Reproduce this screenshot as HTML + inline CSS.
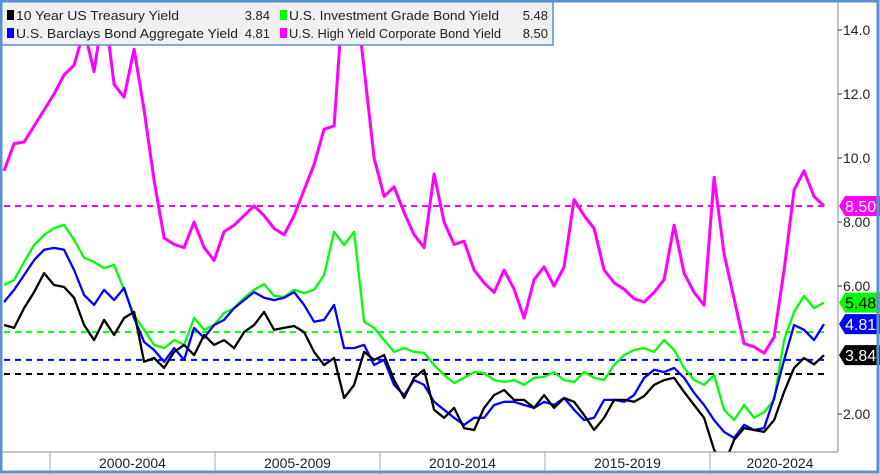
<!DOCTYPE html>
<html><head><meta charset="utf-8">
<style>
html,body{margin:0;padding:0;background:#fff;}
svg{display:block;font-family:"Liberation Sans",sans-serif;}
</style></head>
<body>
<svg id="chart" width="880" height="474" viewBox="0 0 880 474" xmlns="http://www.w3.org/2000/svg">
  <defs><clipPath id="plotclip"><rect x="2" y="2" width="836" height="450"/></clipPath></defs>
  <rect x="0" y="0" width="880" height="474" fill="#fff"/>
  <g id="grid"></g>
  <g id="series" clip-path="url(#plotclip)"></g>
  <line x1="838" y1="2" x2="838" y2="452" stroke="#888" stroke-width="1"/>
  <line x1="2" y1="452" x2="838" y2="452" stroke="#888" stroke-width="1"/>
  <g id="yaxis"></g>
  <g id="xaxis"></g>
  <g id="endlabels"></g>
  <g>
    <rect x="1" y="1" width="552" height="44" fill="#f0f0f0" stroke="#5b8fd0" stroke-width="1.5"/>
    <g font-size="13" fill="#222">
      <rect x="7" y="10" width="7" height="10" fill="#000"/>
      <text x="16" y="20" textLength="163" lengthAdjust="spacingAndGlyphs">10 Year US Treasury Yield</text>
      <text x="270" y="20" text-anchor="end">3.84</text>
      <rect x="7" y="28" width="7" height="10" fill="#0000ff"/>
      <text x="16" y="38" textLength="222" lengthAdjust="spacingAndGlyphs">U.S. Barclays Bond Aggregate Yield</text>
      <text x="270" y="38" text-anchor="end">4.81</text>
      <rect x="280" y="10" width="7" height="10" fill="#00ff00"/>
      <text x="289" y="20" textLength="210" lengthAdjust="spacingAndGlyphs">U.S. Investment Grade Bond Yield</text>
      <text x="548" y="20" text-anchor="end">5.48</text>
      <rect x="280" y="28" width="7" height="10" fill="#ff00ff"/>
      <text x="289" y="38" textLength="212" lengthAdjust="spacingAndGlyphs">U.S. High Yield Corporate Bond Yield</text>
      <text x="548" y="38" text-anchor="end">8.50</text>
    </g>
  </g>
  <rect x="1" y="1" width="877" height="471" fill="none" stroke="#5b8fd0" stroke-width="3"/>
</svg>
<script>
const startYear = 1998.61;
const stepYears = 0.303;
const treasury = [4.78,4.69,5.31,5.81,6.4,6.03,5.97,5.63,4.78,4.31,
4.94,4.47,5.0,5.19,3.63,3.75,3.44,3.94,4.16,3.84,
4.47,4.16,4.31,4.06,4.56,4.78,5.19,4.63,4.69,4.75,
4.56,3.94,3.53,3.75,2.5,2.91,3.94,3.69,3.84,3.06,
2.5,3.13,3.38,2.13,1.88,2.19,1.56,1.5,2.19,2.59,
2.75,2.44,2.44,2.19,2.59,2.19,2.5,2.38,1.97,1.5,
1.88,2.44,2.44,2.38,2.56,2.91,3.06,3.13,2.69,2.28,
1.88,0.88,0.41,1.19,1.56,1.5,1.44,1.81,2.69,3.44,
3.75,3.55,3.84];
const aggregate = [5.5,5.88,6.34,6.81,7.13,7.19,7.13,6.5,5.72,5.41,
5.88,5.56,5.94,5.0,4.25,4.0,3.63,4.06,3.69,4.69,
4.38,4.78,4.94,5.31,5.56,5.81,5.63,5.56,5.63,5.81,
5.41,4.88,4.94,5.41,4.06,4.06,4.16,3.53,3.69,2.91,
2.59,3.06,2.91,2.38,2.13,1.88,1.66,1.88,1.88,2.28,
2.38,2.38,2.28,2.19,2.38,2.28,2.5,2.13,1.81,1.88,
2.44,2.44,2.38,2.59,3.13,3.38,3.31,3.44,3.13,2.66,
2.28,1.81,1.44,1.25,1.66,1.5,1.56,2.5,3.69,4.78,
4.63,4.31,4.81];
const investmentGrade = [6.03,6.19,6.75,7.28,7.59,7.81,7.91,7.44,6.88,6.75,
6.56,6.66,5.88,5.09,4.63,4.16,4.06,4.31,4.16,5.0,
4.63,4.78,5.16,5.31,5.63,5.88,6.06,5.69,5.66,5.88,
5.78,5.88,6.34,7.69,7.28,7.69,4.88,4.69,4.31,3.94,
4.06,3.94,3.91,3.53,3.22,2.97,3.13,3.31,3.28,3.06,
3.0,3.06,2.91,3.13,3.16,3.31,3.06,3.0,3.31,3.13,
3.06,3.53,3.84,4.0,4.06,3.94,4.31,4.0,3.44,3.06,
2.91,3.22,2.13,1.81,2.28,1.88,2.06,2.44,4.31,5.19,
5.69,5.31,5.48];
const highYield = [9.6,10.45,10.5,11.0,11.5,12.0,12.6,12.9,14.0,12.7,
14.8,12.3,11.9,13.4,11.5,9.3,7.5,7.3,7.2,8.0,
7.2,6.8,7.7,7.9,8.2,8.5,8.2,7.8,7.6,8.2,
9.0,9.8,10.9,11.0,15.5,15.5,12.8,10.0,8.8,9.1,
8.3,7.6,7.2,9.5,8.0,7.3,7.4,6.5,6.1,5.8,
6.5,5.9,5.0,6.2,6.6,6.0,6.6,8.7,8.2,7.8,
6.5,6.1,5.9,5.6,5.5,5.8,6.2,7.9,6.4,5.8,
5.4,9.4,7.0,5.6,4.2,4.1,3.9,4.4,6.5,9.0,
9.6,8.8,8.5];
const averages = [3.25, 3.69, 4.56, 8.5];
const lastValues = ["3.84","4.81","5.48","8.50"];
const yTickValues = [2,6,8,10,12,14];
const yTickLabels = ["2.00","6.00","8.00","10.0","12.0","14.0"];
const periodLabels = ["2000-2004","2005-2009","2010-2014","2015-2019","2020-2024"];
const periodStarts = [2000,2005,2010,2015,2020];

const NS="http://www.w3.org/2000/svg";
function xs(yr){return 50+(yr-2000)*33;}
function ys(v){return 478-v*32;}
function mk(tag,parent){const e=document.createElementNS(NS,tag);parent.appendChild(e);return e;}

const ser=document.getElementById('series');
const colors=["#000000","#0000ff","#00ff00","#ff00ff"];
const names=["treasury","aggregate","investment-grade","high-yield"];
const data=[treasury,aggregate,investmentGrade,highYield];

averages.forEach((a,i)=>{
  const l=mk('line',ser);
  
  
  l.setAttribute('x1',4);l.setAttribute('x2',824);
  l.setAttribute('y1',ys(a));l.setAttribute('y2',ys(a));
  l.setAttribute('stroke',colors[i]);l.setAttribute('stroke-width',2);
  l.setAttribute('stroke-dasharray','6,5');
});
[3,2,1,0].forEach(i=>{
  const p=mk('polyline',ser);
  
  
  p.setAttribute('points',data[i].map((v,k)=>xs(startYear+k*stepYears).toFixed(1)+','+ys(v).toFixed(1)).join(' '));
  p.setAttribute('fill','none');p.setAttribute('stroke',colors[i]);
  p.setAttribute('stroke-width',i===3?3:2.3);p.setAttribute('stroke-linejoin','round');
});

const ya=document.getElementById('yaxis');
yTickValues.forEach((v,i)=>{
  const t=mk('line',ya);
  
  
  t.setAttribute('x1',838);t.setAttribute('x2',842);t.setAttribute('y1',ys(v));t.setAttribute('y2',ys(v));t.setAttribute('stroke','#333');
  const tx=mk('text',ya);
  
  
  tx.setAttribute('x',843);tx.setAttribute('y',ys(v)+5);tx.setAttribute('font-size','14');tx.setAttribute('fill','#222');
  tx.textContent=yTickLabels[i];
});
const xa=document.getElementById('xaxis');
periodStarts.forEach((s,i)=>{
  const t=mk('line',xa);
  
  
  t.setAttribute('x1',xs(s));t.setAttribute('x2',xs(s));t.setAttribute('y1',452);t.setAttribute('y2',474);t.setAttribute('stroke','#aaa');
  const tx=mk('text',xa);
  
  
  const cx=i===4?xs(s)+70:xs(s+2.5);
  tx.setAttribute('x',cx);tx.setAttribute('y',468);tx.setAttribute('font-size','14');tx.setAttribute('text-anchor','middle');tx.setAttribute('fill','#222');
  tx.textContent=periodLabels[i];
});
const el=document.getElementById('endlabels');
const txtCol=["#fff","#fff","#000","#fff"];
[0,1,2,3].forEach(i=>{
  const series=data[i];
  let cy=ys(series[series.length-1]);
  const g=mk('g',el);
  
  
  const p=mk('path',g);
  p.setAttribute('d',`M839,${cy} L845,${cy-10} L880,${cy-10} L880,${cy+10} L845,${cy+10} Z`);
  p.setAttribute('fill',colors[i]);
  const tx=mk('text',g);
  tx.setAttribute('x',845);tx.setAttribute('y',cy+6);tx.setAttribute('font-size','16');tx.setAttribute('fill',txtCol[i]);
  tx.textContent=lastValues[i];
});
</script>
</body></html>
